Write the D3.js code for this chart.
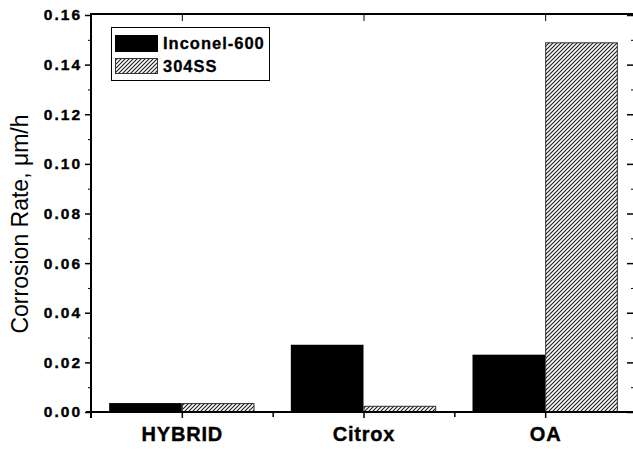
<!DOCTYPE html>
<html><head><meta charset="utf-8">
<script src="https://cdn.jsdelivr.net/npm/d3@7"></script>
<style>body{margin:0;background:#fff}svg{display:block}text{font-family:"Liberation Sans",Arial,sans-serif}</style>
</head><body>
<script>
const categories = ["HYBRID", "Citrox", "OA"];
const seriesNames = ["Inconel-600", "304SS"];
const inconel600 = [0.0036, 0.0271, 0.0231];
const ss304 = [0.0036, 0.0025, 0.1490];
const yTicks = [0, 0.02, 0.04, 0.06, 0.08, 0.10, 0.12, 0.14, 0.16];
const yMinor = [0.01, 0.03, 0.05, 0.07, 0.09, 0.11, 0.13, 0.15];

const W = 633, H = 450;
const svg = d3.select("body").append("svg").attr("width", W).attr("height", H);
const defs = svg.append("defs");
const pat = defs.append("pattern").attr("id", "hatch").attr("patternUnits", "userSpaceOnUse")
  .attr("width", 4).attr("height", 4);
pat.append("rect").attr("width", 4).attr("height", 4).attr("fill", "#fff");
pat.append("path").attr("d", "M-1,1 l2,-2 M0,4 l4,-4 M3,5 l2,-2").attr("stroke", "#222").attr("stroke-width", 1.2);

const x = d3.scaleLinear().domain([0.5, 3.5]).range([91, 636]);
const y = d3.scaleLinear().domain([0, 0.16]).range([412, 15]);
const bw = 0.4;
const frameRight = 633;

// bars
const g = svg.append("g");
categories.forEach((c, i) => {
  const cx = i + 1;
  g.append("rect").attr("x", x(cx - bw)).attr("width", x(cx) - x(cx - bw))
    .attr("y", y(inconel600[i])).attr("height", y(0) - y(inconel600[i])).attr("fill", "#000");
  g.append("rect").attr("x", x(cx) + 0.5).attr("width", x(cx + bw) - x(cx) - 1)
    .attr("y", y(ss304[i]) + 0.5).attr("height", y(0) - y(ss304[i]) - 0.5)
    .attr("fill", "url(#hatch)").attr("stroke", "#333").attr("stroke-width", 1);
});

// left axis
const yAxis = d3.axisLeft(y).tickValues(yTicks).tickSize(6).tickFormat(d3.format(".2f"));
const ya = svg.append("g").attr("transform", "translate(91,0)").call(yAxis);
ya.select(".domain").remove();
ya.selectAll(".tick line").attr("stroke", "#000").attr("stroke-width", 1.5);
ya.selectAll(".tick text").attr("font-size", "15.5px").attr("font-weight", "bold")
  .attr("letter-spacing", "2px").attr("x", -9).attr("fill", "#000")
  .attr("stroke", "#000").attr("stroke-width", 0.4);
svg.append("g").attr("transform", "translate(91,0)")
  .call(d3.axisLeft(y).tickValues(yMinor).tickSize(3).tickFormat(""))
  .call(s => { s.select(".domain").remove(); s.selectAll("line").attr("stroke", "#000"); });

// right ticks (inward)
svg.append("g").attr("transform", `translate(${frameRight},0)`)
  .call(d3.axisLeft(y).tickValues(yTicks).tickSize(6).tickFormat(""))
  .call(s => { s.select(".domain").remove(); s.selectAll("line").attr("stroke", "#000").attr("stroke-width", 1.5); });
svg.append("g").attr("transform", `translate(${frameRight},0)`)
  .call(d3.axisLeft(y).tickValues(yMinor).tickSize(2).tickFormat(""))
  .call(s => { s.select(".domain").remove(); s.selectAll("line").attr("stroke", "#000"); });

// bottom axis
const xAxis = d3.axisBottom(x).tickValues([1, 2, 3]).tickSize(6).tickFormat(d => categories[d - 1]);
const xa = svg.append("g").attr("transform", `translate(0,${y(0)})`).call(xAxis);
xa.select(".domain").remove();
xa.selectAll(".tick line").attr("stroke", "#000").attr("stroke-width", 1.5);
xa.selectAll(".tick text").attr("font-size", "20px").attr("font-weight", "bold")
  .attr("letter-spacing", "0.8px").attr("y", 15).attr("fill", "#000")
  .attr("stroke", "#000").attr("stroke-width", 0.4);
svg.append("g").attr("transform", `translate(0,${y(0)})`)
  .call(d3.axisBottom(x).tickValues([1.5, 2.5]).tickSize(5).tickFormat(""))
  .call(s => { s.select(".domain").remove(); s.selectAll("line").attr("stroke", "#000").attr("stroke-width", 1.5); });
// top ticks (inward)
svg.append("g").attr("transform", `translate(0,${y(0.16) - 1})`)
  .call(d3.axisBottom(x).tickValues([1, 2, 3]).tickSize(7).tickFormat(""))
  .call(s => { s.select(".domain").remove(); s.selectAll("line").attr("stroke", "#000"); });

// frame lines
svg.append("line").attr("x1", 91).attr("x2", 91).attr("y1", 13).attr("y2", 418).attr("stroke", "#000").attr("stroke-width", 2);
svg.append("line").attr("x1", 86).attr("x2", frameRight).attr("y1", y(0)).attr("y2", y(0)).attr("stroke", "#000").attr("stroke-width", 2);
svg.append("line").attr("x1", 91).attr("x2", frameRight).attr("y1", y(0.16) - 1).attr("y2", y(0.16) - 1).attr("stroke", "#000").attr("stroke-width", 2);

// y title
svg.append("text").attr("transform", `translate(28,${(110 + 338) / 2}) rotate(-90)`)
  .attr("text-anchor", "middle").attr("font-size", "23px").attr("fill", "#000")
  .text("Corrosion Rate, \u03bcm/h");

// legend
const lg = svg.append("g");
lg.append("rect").attr("x", 111.5).attr("y", 27.5).attr("width", 158).attr("height", 53)
  .attr("fill", "#fff").attr("stroke", "#000").attr("stroke-width", 1);
lg.append("rect").attr("x", 115).attr("y", 35).attr("width", 43).attr("height", 17).attr("fill", "#000");
lg.append("rect").attr("x", 115.5).attr("y", 58.5).attr("width", 42).attr("height", 15)
  .attr("fill", "url(#hatch)").attr("stroke", "#333");
lg.selectAll("text.lt").data(seriesNames).enter().append("text").attr("class", "lt")
  .attr("x", 163).attr("y", (d, i) => i === 0 ? 49 : 72)
  .attr("font-size", "16.5px").attr("font-weight", "bold").attr("letter-spacing", "1px")
  .attr("fill", "#000").attr("stroke", "#000").attr("stroke-width", 0.3).text(d => d);
</script>
</body></html>
